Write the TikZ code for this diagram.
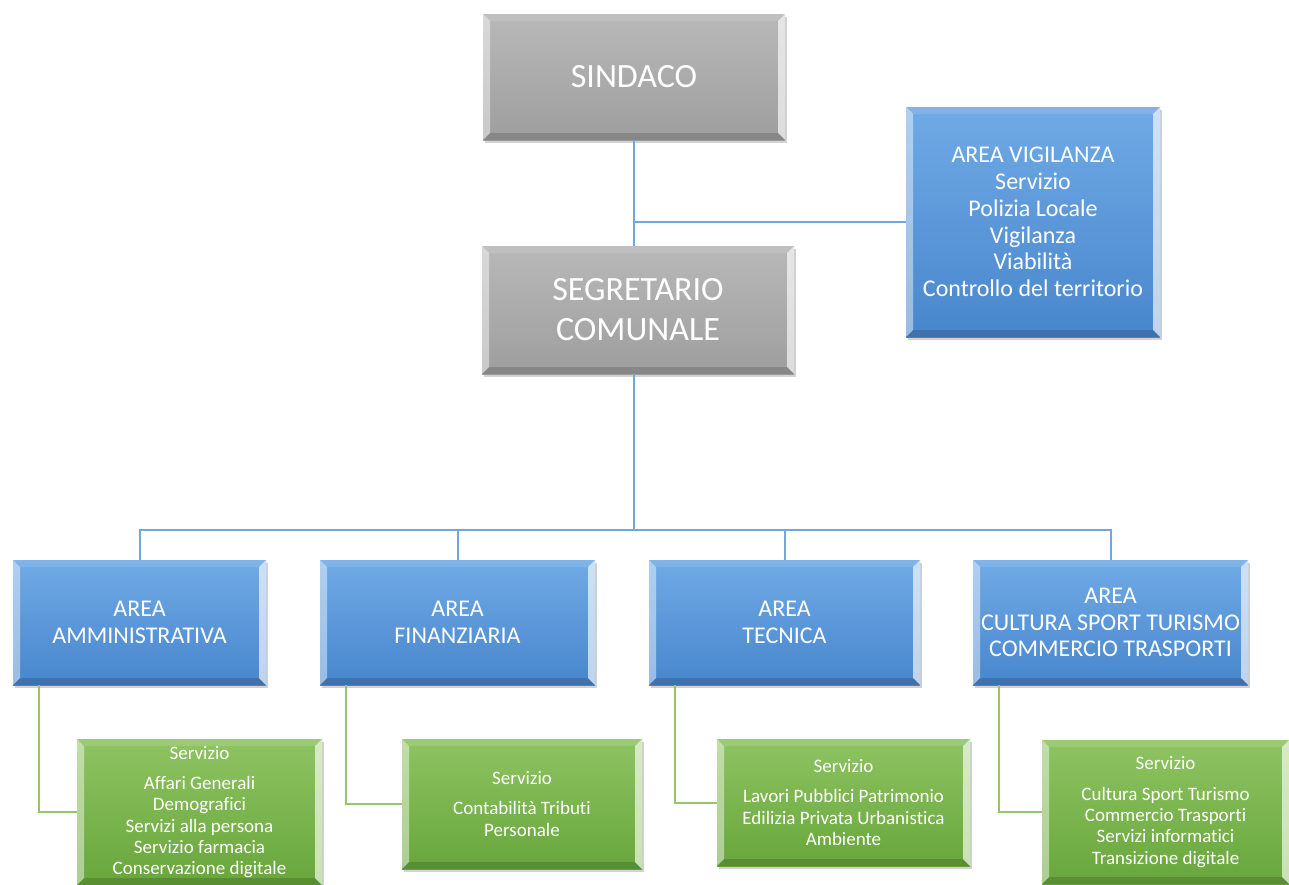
\documentclass[tikz,border=0pt]{standalone}
\usepackage{fontspec}
\setmainfont{Carlito}[Ligatures=NoCommon]
\usetikzlibrary{calc,shadows}

\definecolor{greytop}{RGB}{184,184,184}
\definecolor{greybot}{RGB}{158,158,158}
\definecolor{bluetop}{RGB}{112,170,230}
\definecolor{bluebot}{RGB}{72,134,204}
\definecolor{greentop}{RGB}{142,196,98}
\definecolor{greenbot}{RGB}{104,166,60}
\definecolor{lineblue}{RGB}{111,168,220}
\definecolor{linegreen}{RGB}{150,198,106}

\begin{document}
\begin{tikzpicture}[x=1pt,y=-1pt,
		bevel/.style={path picture={
			\coordinate (bl) at (path picture bounding box.south west);
			\coordinate (tr) at (path picture bounding box.north east);
			\coordinate (tl) at (bl |- tr);
			\coordinate (br) at (bl -| tr);
			\fill[white,opacity=.45] (bl) -- (tl) -- ($(tl)+(7pt,-7pt)$) -- ($(bl)+(7pt,7pt)$) -- cycle;
			\fill[white,opacity=.65] (br) -- (tr) -- ($(tr)+(-7pt,-7pt)$) -- ($(br)+(-7pt,7pt)$) -- cycle;
			\fill[white,opacity=.12] (tl) -- (tr) -- ($(tr)+(-7pt,-7pt)$) -- ($(tl)+(7pt,-7pt)$) -- cycle;
			\fill[black,opacity=.15] (bl) -- (br) -- ($(br)+(-7pt,7pt)$) -- ($(bl)+(7pt,7pt)$) -- cycle;
		}},
		orgbox/.style={bevel,align=center,text=white,inner sep=0pt,
			drop shadow={opacity=.35,shadow xshift=1.5pt,shadow yshift=-2.5pt}},
		greybox/.style={orgbox,top color=greytop,bottom color=greybot,
			font=\fontsize{34}{40}\selectfont},
		bluebox/.style={orgbox,top color=bluetop,bottom color=bluebot,
			font=\fontsize{24}{26.7}\selectfont},
		greenbox/.style={orgbox,top color=greentop,bottom color=greenbot,
			font=\fontsize{19}{21.3}\selectfont},
		bline/.style={draw=lineblue,line width=2pt},
		gline/.style={draw=linegreen,line width=2pt}]
	\useasboundingbox[fill=white] (0,0) rectangle (1289,884);

	% vertici
	\node[greybox,minimum width=302pt,minimum height=126pt] (sindaco) at (634,77) {SINDACO};
	\node[greybox,minimum width=312pt,minimum height=128pt] (segretario) at (638,310) {SEGRETARIO\\COMUNALE};
	\node[bluebox,minimum width=254pt,minimum height=230pt] (vigilanza) at (1033,222)
		{AREA VIGILANZA\\Servizio\\Polizia Locale\\Vigilanza\\Viabilità\\Controllo del territorio};

	% aree
	\node[bluebox,minimum width=253pt,minimum height=125pt] (amm) at (139.5,622.5) {AREA\\AMMINISTRATIVA};
	\node[bluebox,minimum width=275pt,minimum height=125pt] (fin) at (457.5,622.5) {AREA\\FINANZIARIA};
	\node[bluebox,minimum width=271pt,minimum height=125pt] (tec) at (784.5,622.5) {AREA\\TECNICA};
	\node[bluebox,minimum width=275pt,minimum height=125pt] (cult) at (1110.5,622.5)
		{AREA\\CULTURA SPORT TURISMO\\COMMERCIO TRASPORTI};

	% servizi
	\node[greenbox,minimum width=245pt,minimum height=146pt] (samm) at (199.5,812)
		{Servizio\\[9pt]Affari Generali\\Demografici\\Servizi alla persona\\Servizio farmacia\\Conservazione digitale};
	\node[greenbox,minimum width=240pt,minimum height=130pt] (sfin) at (522,804)
		{Servizio\\[9pt]Contabilità Tributi\\Personale};
	\node[greenbox,minimum width=253pt,minimum height=127pt] (stec) at (843.5,802.5)
		{Servizio\\[9pt]Lavori Pubblici Patrimonio\\Edilizia Privata Urbanistica\\Ambiente};
	\node[greenbox,minimum width=247pt,minimum height=144pt] (scult) at (1165.5,812)
		{Servizio\\[9pt]Cultura Sport Turismo\\Commercio Trasporti\\Servizi informatici\\Transizione digitale};

	% collegamenti
	\coordinate (bus) at (634,530);
	\draw[bline] (sindaco.south) -- (sindaco.south |- segretario.north);
	\draw[bline] (vigilanza.west) -- (vigilanza.west -| sindaco.south);
	\draw[bline] (sindaco.south |- segretario.south) -- (bus);
	\foreach \a in {amm,fin,tec,cult}
		\draw[bline] (\a.north) |- (bus);
	\foreach \a in {amm,fin,tec,cult}
		\draw[gline] ($(\a.south west)+(26pt,0pt)$) |- (s\a.west);
\end{tikzpicture}
\end{document}
